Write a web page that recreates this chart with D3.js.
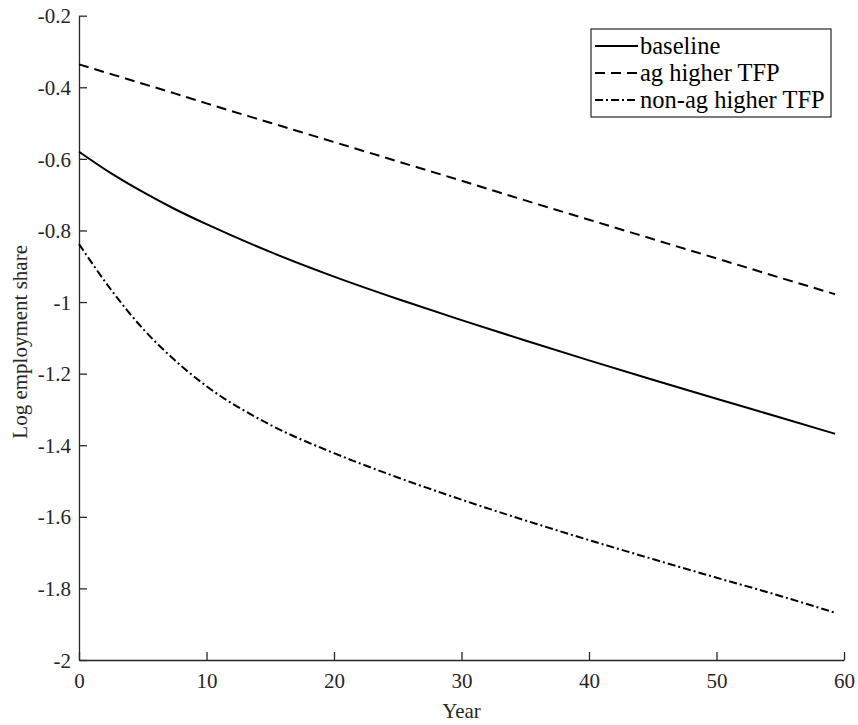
<!DOCTYPE html>
<html>
<head>
<meta charset="utf-8">
<script src="https://cdn.jsdelivr.net/npm/d3@7"></script>
<style>
  body { margin: 0; background: #fff; }
</style>
</head>
<body>
<svg id="chart" width="858" height="725" font-family="Liberation Serif, Times New Roman, serif"></svg>
<script>
// ---- data ----
const years = [0, 2.5, 5, 7.5, 10, 15, 20, 25, 30, 35, 40, 45, 50, 55, 59.3];
const baseline = [-0.58, -0.64, -0.6925, -0.74, -0.7825, -0.86, -0.929, -0.9915, -1.0505, -1.1075, -1.163, -1.217, -1.27, -1.3225, -1.368];
const agHigherTFP = [-0.336, -0.363, -0.39, -0.417, -0.445, -0.499, -0.553, -0.607, -0.661, -0.716, -0.77, -0.824, -0.878, -0.932, -0.978];
const nonAgHigherTFP = [-0.838, -0.965, -1.074, -1.162, -1.235, -1.343, -1.422, -1.49, -1.552, -1.61, -1.665, -1.718, -1.77, -1.821, -1.868];
const seriesNames = ["baseline", "ag higher TFP", "non-ag higher TFP"];
const xTicks = [0, 10, 20, 30, 40, 50, 60];
const yTicks = [-2, -1.8, -1.6, -1.4, -1.2, -1, -0.8, -0.6, -0.4, -0.2];

// ---- layout ----
const svg = d3.select("#chart");
const FONT = "Liberation Serif, Times New Roman, serif";
const plotL = 79, plotR = 844, plotT = 15.7, plotB = 660;
const x = d3.scaleLinear().domain([0, 60]).range([plotL, plotR]);
const y = d3.scaleLinear().domain([-2, -0.2]).range([plotB, plotT]);
const axisColor = "#262626";
const fontSize = 21;

// axes
const xAxis = svg.append("g").attr("transform", `translate(0,${plotB})`)
  .call(d3.axisBottom(x).tickValues(xTicks).tickFormat(d3.format("d")).tickSizeInner(-8).tickSizeOuter(0).tickPadding(13));
const yAxis = svg.append("g").attr("transform", `translate(${plotL},0)`)
  .call(d3.axisLeft(y).tickValues(yTicks).tickFormat(d => String(d)).tickSizeInner(-8).tickSizeOuter(0).tickPadding(8));
[xAxis, yAxis].forEach(g => {
  g.attr("font-family", FONT).attr("font-size", fontSize);
  g.select(".domain").attr("stroke", axisColor).attr("stroke-width", 1.3);
  g.selectAll(".tick line").attr("stroke", axisColor).attr("stroke-width", 1.3);
  g.selectAll(".tick text").attr("fill", axisColor);
});
yAxis.selectAll(".tick text").attr("dy", "0.34em");

// axis labels
svg.append("text").attr("x", (plotL + plotR) / 2).attr("y", 718)
  .attr("text-anchor", "middle").attr("font-size", fontSize).attr("fill", axisColor).text("Year");
svg.append("text").attr("transform", `translate(27,${(plotT + plotB) / 2 + 4}) rotate(-90)`)
  .attr("text-anchor", "middle").attr("font-size", fontSize).attr("fill", axisColor).text("Log employment share");

// lines
const styles = [
  { data: baseline, dash: null },
  { data: agHigherTFP, dash: "10,6" },
  { data: nonAgHigherTFP, dash: "8,3,2,3" }
];
const line = d3.line().x((d, i) => x(years[i])).y(d => y(d)).curve(d3.curveMonotoneX);
styles.forEach(s => {
  svg.append("path").datum(s.data).attr("d", line)
    .attr("fill", "none").attr("stroke", "#000").attr("stroke-width", 2)
    .attr("stroke-dasharray", s.dash);
});

// legend
const lg = svg.append("g");
lg.append("rect").attr("x", 591).attr("y", 29).attr("width", 240).attr("height", 88)
  .attr("fill", "#fff").attr("stroke", axisColor).attr("stroke-width", 1.2);
seriesNames.forEach((name, i) => {
  const cy = 46 + i * 27;
  lg.append("line").attr("x1", 595).attr("x2", 638).attr("y1", cy).attr("y2", cy)
    .attr("stroke", "#000").attr("stroke-width", 2).attr("stroke-dasharray", styles[i].dash);
  lg.append("text").attr("x", 640).attr("y", cy).attr("dy", "0.33em")
    .attr("font-size", 24.5).attr("fill", "#000").text(name);
});
</script>
</body>
</html>
